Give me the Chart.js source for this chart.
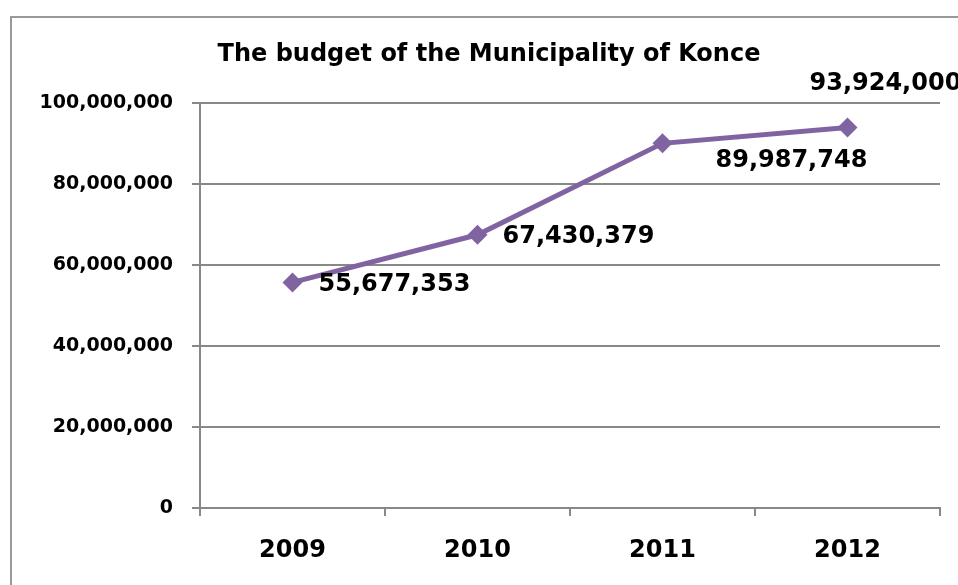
<!DOCTYPE html>
<html>
<head>
<meta charset="utf-8">
<script src="https://cdn.jsdelivr.net/npm/chart.js@4"></script>
<style>
  html, body { margin: 0; padding: 0; background: #fff; }
  #wrap { width: 958px; height: 585px; }
</style>
</head>
<body>
<div id="wrap"><canvas id="budgetChart" width="958" height="585"></canvas></div>
<script>
// data
var years = ['2009', '2010', '2011', '2012'];
var budget = [55677353, 67430379, 89987748, 93924000];
var yTicks = [0, 20000000, 40000000, 60000000, 80000000, 100000000];

// label offsets from each point (px): left edge of text, middle of text
var labelDx = [26, 25, 53, -38];
var labelDy = [2, 2, 17, -44];

var FONT = "'DejaVu Sans', Verdana, sans-serif";

function fmt(v) {
  return Number(v).toLocaleString('en-US');
}

// frame round the chart (cut by the picture edge on right and bottom)
var framePlugin = {
  id: 'frame',
  beforeDraw: function (chart) {
    var c = chart.ctx;
    c.save();
    c.strokeStyle = '#999999';
    c.lineWidth = 2;
    c.strokeRect(11, 17, 1000, 700);
    c.restore();
  }
};

// value labels next to the points
var labelPlugin = {
  id: 'valueLabels',
  afterDatasetsDraw: function (chart) {
    var c = chart.ctx;
    var meta = chart.getDatasetMeta(0);
    c.save();
    c.font = 'bold 24px ' + FONT;
    c.fillStyle = '#000';
    c.textAlign = 'left';
    c.textBaseline = 'middle';
    meta.data.forEach(function (pt, i) {
      c.fillText(fmt(budget[i]), pt.x + labelDx[i], pt.y + labelDy[i]);
    });
    c.restore();
  }
};

var ctx = document.getElementById('budgetChart').getContext('2d');

var chart = new Chart(ctx, {
  type: 'line',
  data: {
    labels: years,
    datasets: [{
      label: 'Budget',
      data: budget,
      borderColor: '#8064A2',
      backgroundColor: '#8064A2',
      borderWidth: 5,
      pointStyle: 'rectRot',
      pointRadius: 10,
      pointBorderWidth: 0,
      tension: 0,
      clip: false
    }]
  },
  options: {
    responsive: false,
    animation: false,
    layout: { padding: { left: 38, right: 18, top: 0, bottom: 0 } },
    plugins: {
      legend: { display: false },
      tooltip: { enabled: false },
      title: {
        display: true,
        text: 'The budget of the Municipality of Konce',
        color: '#000',
        font: { family: FONT, size: 24, weight: 'bold' },
        padding: { top: 40, bottom: 34 }
      }
    },
    scales: {
      x: {
        offset: true,
        grid: {
          offset: true,
          drawOnChartArea: false,
          drawTicks: true,
          tickLength: 8,
          color: '#888888',
          lineWidth: 2
        },
        border: { color: '#888888', width: 2 },
        ticks: {
          color: '#000',
          padding: 20,
          font: { family: FONT, size: 24, weight: 'bold' }
        },
        afterFit: function (s) { s.height = 77; }
      },
      y: {
        min: 0,
        max: 100000000,
        afterBuildTicks: function (s) {
          s.ticks = yTicks.map(function (v) { return { value: v }; });
        },
        grid: {
          color: '#888888',
          lineWidth: 2,
          tickLength: 8
        },
        border: { color: '#888888', width: 2 },
        ticks: {
          color: '#000',
          padding: 19,
          font: { family: FONT, size: 19, weight: 'bold' },
          callback: function (v) { return fmt(v); }
        },
        afterFit: function (s) { s.width = 162; }
      }
    }
  },
  plugins: [framePlugin, labelPlugin]
});
</script>
</body>
</html>
